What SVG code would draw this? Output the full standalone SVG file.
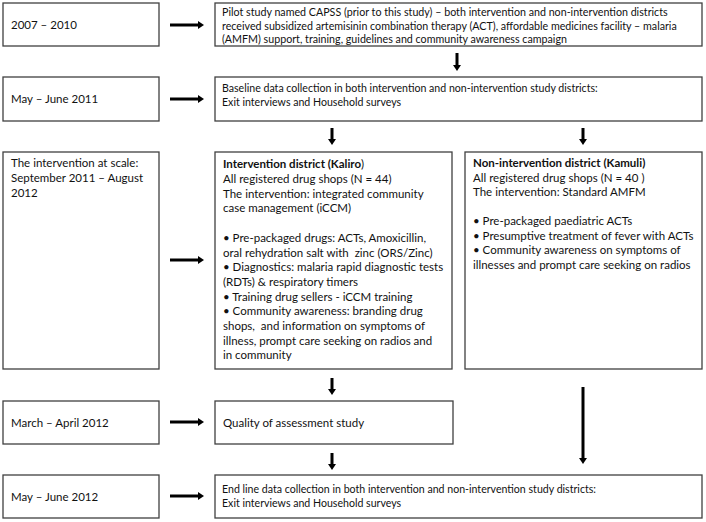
<svg xmlns="http://www.w3.org/2000/svg" width="706" height="522" viewBox="0 0 706 522">
<defs>
<marker id="ah" viewBox="0 0 6 8" refX="0" refY="4" markerWidth="6" markerHeight="8" orient="auto" markerUnits="userSpaceOnUse"><path d="M0,0 L6,4 L0,8 z" fill="#000"/></marker>
<style>
.box{fill:#fff;stroke:#404040;stroke-width:1.3}
text{font-family:Lato,"Liberation Sans",sans-serif;fill:#111;font-size:11.5px;white-space:pre}
.s11{font-size:10.7px}
.s10{font-size:10.6px}
.b{font-weight:bold}
.arr{stroke:#000;stroke-width:3;fill:none;marker-end:url(#ah)}
</style>
</defs>
<rect width="706" height="522" fill="#fff"/>
<g id="connectors">
<line class="arr" x1="170" y1="25" x2="198" y2="25"/>
<line class="arr" x1="170" y1="99" x2="198" y2="99"/>
<line class="arr" x1="170" y1="260" x2="198" y2="260"/>
<line class="arr" x1="170" y1="422" x2="198" y2="422"/>
<line class="arr" x1="170" y1="496" x2="198" y2="496"/>
<line class="arr" x1="457" y1="53" x2="457" y2="65"/>
<line class="arr" x1="332" y1="128" x2="332" y2="139"/>
<line class="arr" x1="583" y1="128" x2="583" y2="139"/>
<line class="arr" x1="332" y1="378" x2="332" y2="389"/>
<line class="arr" x1="332" y1="453" x2="332" y2="464"/>
<line class="arr" x1="583" y1="387" x2="583" y2="458"/>
</g>
<g id="n-2007">
<rect class="box" x="3" y="3" width="156" height="43"/>
<text x="11" y="29">2007 – 2010</text>
</g>
<g id="n-pilot">
<rect class="box" x="215" y="3" width="487" height="43"/>
<text class="s11" x="222" y="16">Pilot study named CAPSS (prior to this study) – both intervention and non-intervention districts</text>
<text class="s11" x="222" y="29.5">received subsidized artemisinin combination therapy (ACT), affordable medicines facility – malaria</text>
<text class="s11" x="222" y="43">(AMFM) support, training, guidelines and community awareness campaign</text>
</g>
<g id="n-may2011">
<rect class="box" x="3" y="77" width="156" height="44"/>
<text x="11" y="103">May – June 2011</text>
</g>
<g id="n-baseline">
<rect class="box" x="215" y="77" width="487" height="44"/>
<text class="s10" x="222" y="92">Baseline data collection in both intervention and non-intervention study districts:</text>
<text class="s10" x="222" y="106">Exit interviews and Household surveys</text>
</g>
<g id="n-scale">
<rect class="box" x="3" y="152" width="156" height="217"/>
<text x="11" y="167">The intervention at scale:</text>
<text x="11" y="182">September 2011 – August</text>
<text x="11" y="197">2012</text>
</g>
<g id="n-kaliro">
<rect class="box" x="215" y="152" width="237" height="217"/>
<text x="223" y="168"><tspan class="b">Intervention district (Kaliro</tspan>)</text>
<text x="223" y="183">All registered drug shops (N = 44)</text>
<text x="223" y="197.5">The intervention: integrated community</text>
<text x="223" y="212">case management (iCCM)</text>
<text x="223" y="242">• Pre-packaged drugs: ACTs, Amoxicillin,</text>
<text x="223" y="256.5" xml:space="preserve">oral rehydration salt with  zinc (ORS/Zinc)</text>
<text x="223" y="271">• Diagnostics: malaria rapid diagnostic tests</text>
<text x="223" y="286">(RDTs) &amp; respiratory timers</text>
<text x="223" y="300.5">• Training drug sellers - iCCM training</text>
<text x="223" y="315">• Community awareness: branding drug</text>
<text x="223" y="330" xml:space="preserve">shops,  and information on symptoms of</text>
<text x="223" y="344.5">illness, prompt care seeking on radios and</text>
<text x="223" y="359">in community</text>
</g>
<g id="n-kamuli">
<rect class="box" x="465" y="152" width="237" height="217"/>
<text class="b" x="473" y="167">Non-intervention district (Kamuli)</text>
<text x="473" y="181.5">All registered drug shops (N = 40 )</text>
<text x="473" y="196">The intervention: Standard AMFM</text>
<text x="473" y="225">• Pre-packaged paediatric ACTs</text>
<text x="473" y="240">• Presumptive treatment of fever with ACTs</text>
<text x="473" y="254">• Community awareness on symptoms of</text>
<text x="473" y="269">illnesses and prompt care seeking on radios</text>
</g>
<g id="n-march">
<rect class="box" x="3" y="401" width="156" height="43"/>
<text x="11" y="427">March – April 2012</text>
</g>
<g id="n-quality">
<rect class="box" x="215" y="401" width="238" height="43"/>
<text x="223" y="427">Quality of assessment study</text>
</g>
<g id="n-may2012">
<rect class="box" x="3" y="475" width="156" height="43"/>
<text x="11" y="501">May – June 2012</text>
</g>
<g id="n-endline">
<rect class="box" x="215" y="475" width="487" height="43"/>
<text class="s10" x="222" y="493">End line data collection in both intervention and non-intervention study districts:</text>
<text class="s10" x="222" y="507">Exit interviews and Household surveys</text>
</g>
</svg>
